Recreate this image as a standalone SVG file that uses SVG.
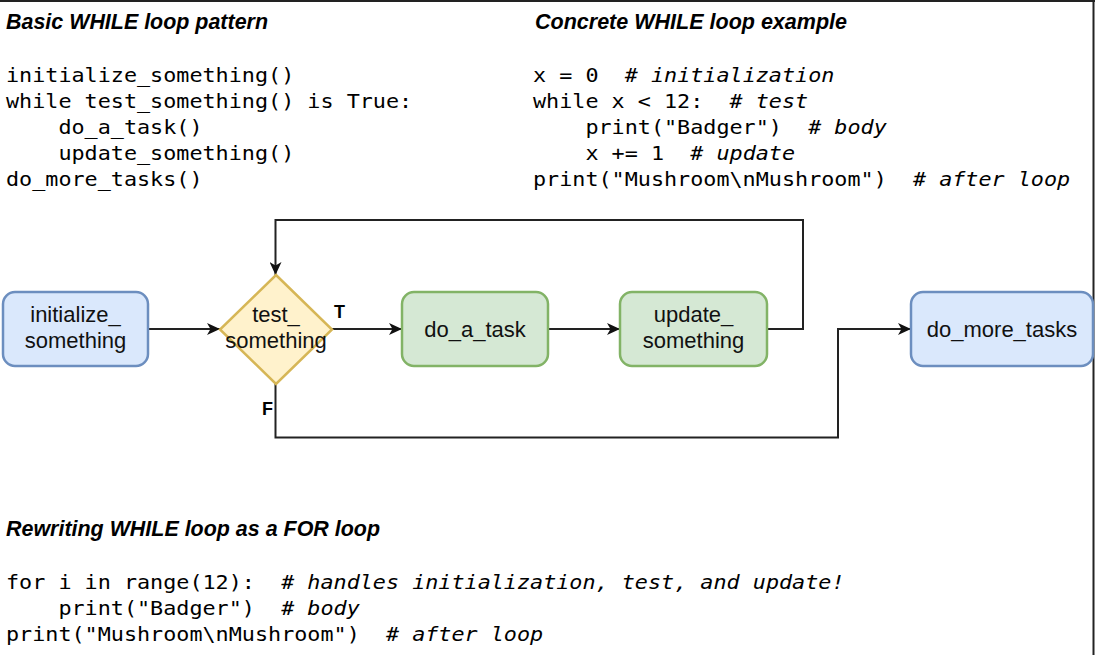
<svg xmlns="http://www.w3.org/2000/svg" width="1095" height="655" viewBox="0 0 1095 655">
<defs>
<style>
.title{font-family:"Liberation Sans",Arial,sans-serif;font-weight:bold;font-style:italic;font-size:21.5px;fill:#000}
.code{font-family:"DejaVu Sans Mono",monospace;font-size:19px;fill:#000}
.cm{font-style:italic}
.lbl{font-family:"Liberation Sans",Arial,sans-serif;font-size:22px;fill:#111;text-anchor:middle}
.tf{font-family:"Liberation Sans",Arial,sans-serif;font-size:18px;font-weight:bold;fill:#000}
.conn{fill:none;stroke:#222;stroke-width:2}
.blue{fill:#dae8fc;stroke:#6c8ebf;stroke-width:2.5}
.green{fill:#d5e8d4;stroke:#82b366;stroke-width:2.5}
.yellow{fill:#fff2cc;stroke:#d6b656;stroke-width:2.5}
</style>
<marker id="arr" markerUnits="userSpaceOnUse" markerWidth="14" markerHeight="12" refX="13" refY="6" orient="auto">
<path d="M0,0 L13,6 L0,12 L3.5,6 z" fill="#111"/>
</marker>
</defs>
<rect width="1095" height="655" fill="#fff"/>
<line x1="0" y1="1" x2="1095" y2="1" stroke="#222" stroke-width="2"/>
<line x1="1093.5" y1="0" x2="1093.5" y2="655" stroke="#222" stroke-width="2"/>

<g id="text-basic">
<text class="title" x="6" y="29" textLength="262" lengthAdjust="spacingAndGlyphs">Basic WHILE loop pattern</text>
<g class="code">
<text transform="translate(6,82) scale(1.146,1)" xml:space="preserve">initialize_something()</text>
<text transform="translate(6,108) scale(1.146,1)" xml:space="preserve">while test_something() is True:</text>
<text transform="translate(6,134) scale(1.146,1)" xml:space="preserve">    do_a_task()</text>
<text transform="translate(6,160) scale(1.146,1)" xml:space="preserve">    update_something()</text>
<text transform="translate(6,186) scale(1.146,1)" xml:space="preserve">do_more_tasks()</text>
</g>
</g>

<g id="text-concrete">
<text class="title" x="535" y="29" textLength="312" lengthAdjust="spacingAndGlyphs">Concrete WHILE loop example</text>
<g class="code">
<text transform="translate(533,82) scale(1.146,1)" xml:space="preserve">x = 0  <tspan class="cm"># initialization</tspan></text>
<text transform="translate(533,108) scale(1.146,1)" xml:space="preserve">while x &lt; 12:  <tspan class="cm"># test</tspan></text>
<text transform="translate(533,134) scale(1.146,1)" xml:space="preserve">    print("Badger")  <tspan class="cm"># body</tspan></text>
<text transform="translate(533,160) scale(1.146,1)" xml:space="preserve">    x += 1  <tspan class="cm"># update</tspan></text>
<text transform="translate(533,186) scale(1.146,1)" xml:space="preserve">print("Mushroom\nMushroom")  <tspan class="cm"># after loop</tspan></text>
</g>
</g>

<g id="text-for">
<text class="title" x="6" y="536" textLength="374" lengthAdjust="spacingAndGlyphs">Rewriting WHILE loop as a FOR loop</text>
<g class="code">
<text transform="translate(6,589) scale(1.146,1)" xml:space="preserve">for i in range(12):  <tspan class="cm"># handles initialization, test, and update!</tspan></text>
<text transform="translate(6,615) scale(1.146,1)" xml:space="preserve">    print("Badger")  <tspan class="cm"># body</tspan></text>
<text transform="translate(6,641) scale(1.146,1)" xml:space="preserve">print("Mushroom\nMushroom")  <tspan class="cm"># after loop</tspan></text>
</g>
</g>

<g id="connectors">
<path class="conn" d="M148,329 H220" marker-end="url(#arr)"/>
<path class="conn" d="M332,329 H402" marker-end="url(#arr)"/>
<path class="conn" d="M548,329 H620" marker-end="url(#arr)"/>
<path class="conn" d="M767,329 H803 V220 H275.5 V275" marker-end="url(#arr)"/>
<path class="conn" d="M275.5,384 V437.5 H838 V329 H911" marker-end="url(#arr)"/>
<text class="tf" x="334" y="318">T</text>
<text class="tf" x="262" y="415">F</text>
</g>

<g id="node-init">
<rect class="blue" x="3" y="292" width="145" height="74" rx="12"/>
<text class="lbl" x="75.5" y="322">initialize_</text>
<text class="lbl" x="75.5" y="348">something</text>
</g>

<g id="node-test">
<path class="yellow" d="M276,275 L332,329.5 L276,384 L220,329.5 Z"/>
<text class="lbl" x="276" y="322">test_</text>
<text class="lbl" x="276" y="348">something</text>
</g>

<g id="node-task">
<rect class="green" x="402" y="292" width="146" height="74" rx="12"/>
<text class="lbl" x="475" y="337">do_a_task</text>
</g>

<g id="node-update">
<rect class="green" x="620" y="292" width="147" height="74" rx="12"/>
<text class="lbl" x="693.5" y="322">update_</text>
<text class="lbl" x="693.5" y="348">something</text>
</g>

<g id="node-more">
<rect class="blue" x="911" y="292" width="182" height="74" rx="12"/>
<text class="lbl" x="1002" y="337">do_more_tasks</text>
</g>
</svg>
